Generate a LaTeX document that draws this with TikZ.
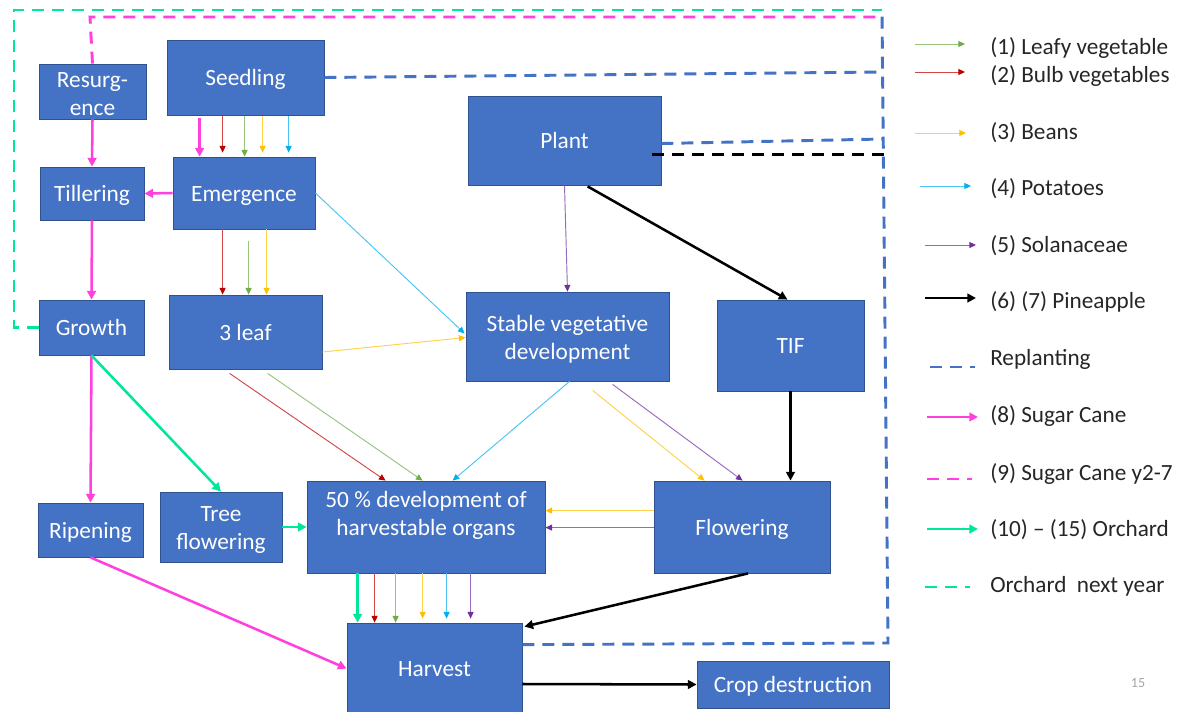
\documentclass[tikz,border=0pt]{standalone}
\usepackage{fontspec}
\setmainfont{Carlito}
\usetikzlibrary{arrows.meta,calc}

\definecolor{boxblue}{HTML}{4472C4}
\definecolor{boxedge}{HTML}{2F528F}
\definecolor{leafy}{HTML}{70AD47}
\definecolor{bulb}{HTML}{C00000}
\definecolor{beans}{HTML}{FFC000}
\definecolor{potato}{HTML}{00B0F0}
\definecolor{solan}{HTML}{7030A0}
\definecolor{cane}{HTML}{FF40DC}
\definecolor{orchard}{HTML}{00E69A}
\definecolor{replant}{HTML}{4472C4}
\definecolor{legtext}{HTML}{262626}
\definecolor{pagenum}{HTML}{A6A6A6}

\tikzset{
  boxbase/.style={draw=boxedge, line width=0.6pt, fill=boxblue, text=white,
    font=\fontsize{17.5}{21}\selectfont, inner sep=0pt},
  box/.style={boxbase, text height=12.3pt, text depth=0pt},
  boxml/.style={boxbase, align=center},
  boxtext/.style={label={[text=white, align=center, inner sep=0pt,
    font=\fontsize{17.5}{21}\selectfont, yshift=-2.25pt]center:#1}},
  thinarrow/.style={line width=0.7pt, draw=#1!72!white,
    -{Triangle[length=5pt,width=4.5pt,color=#1]}},
  thickarrow/.style={line width=1.9pt, draw=#1,
    -{Triangle[length=6.5pt,width=6.5pt,color=#1]}},
  dashline/.style={line width=2.2pt, dash pattern=on 9pt off 6pt},
  legendtext/.style={anchor=west, inner sep=0pt, text=legtext,
    font=\fontsize{17.4}{21}\selectfont},
}

\begin{document}
\begin{tikzpicture}[x=0.75pt, y=-0.75pt]
\useasboundingbox (0,0) rectangle (1182,711);
\fill[white] (0,0) rectangle (1182,711);
\clip (0,0) rectangle (1182,711);

% ---- stage boxes ----
\node[boxml, minimum width=80.25pt, minimum height=41.25pt, boxtext={Resurg-\\ence}] (resurg) at (92.5,91.5) {};
\node[box, minimum width=117.75pt, minimum height=56.25pt] (seed) at (245.5,77.5) {Seedling};
\node[box, minimum width=78pt, minimum height=39.75pt] (till) at (92,193.5) {Tillering};
\node[box, minimum width=106.5pt, minimum height=54pt] (emerg) at (244,193) {Emergence};
\node[box, minimum width=78.75pt, minimum height=41.25pt] (growth) at (91.5,327.5) {Growth};
\node[box, minimum width=114.75pt, minimum height=55.5pt] (leaf) at (245.5,332) {3 leaf};
\node[box, minimum width=144.75pt, minimum height=66.75pt] (plant) at (564.5,140.5) {Plant};
\node[boxml, minimum width=152.25pt, minimum height=66.75pt, boxtext={Stable vegetative\\development}] (stable) at (567.5,336.5) {};
\node[box, minimum width=110.25pt, minimum height=68.25pt] (tif) at (790.5,345.5) {TIF};
\node[box, minimum width=78.75pt, minimum height=40.5pt] (ripen) at (90.5,530) {Ripening};
\node[boxml, minimum width=91.5pt, minimum height=52.5pt, boxtext={Tree\\flowering}] (treefl) at (221,527) {};
\node[boxml, minimum width=178.5pt, minimum height=69pt] (dev) at (426,527) {50 \% development of\\harvestable organs\\~};
\node[box, minimum width=132pt, minimum height=69pt] (flower) at (742,527) {Flowering};
\node[box, minimum width=131.25pt, minimum height=68.25pt] (harvest) at (434.5,668.5) {Harvest};
\node[box, minimum width=144pt, minimum height=35.25pt] (crop) at (793,684.5) {Crop destruction};

% ---- loop-back corners ----
\coordinate (rtop) at (882,12);
\coordinate (rbot) at (888,643);
\coordinate (rseed) at (882.4,72);
\coordinate (rplant) at (883.5,139);
\coordinate (rpine) at (884,154.5);
\coordinate (gcorner) at (14,10);
\coordinate (gend) at (882,10);
\coordinate (pcorner) at (90,17);
\coordinate (pend) at (882,17);

% replanting (blue dashed)
\draw[replant, dashline] ($(harvest.north east)+(0,22)$) -- (rbot) -- (rtop);
\draw[replant, dashline] (seed.east) -- (rseed);
\draw[replant, dashline] ($(plant.east)+(0,3)$) -- (rplant);
% pineapple replanting (black dashed)
\draw[black, dashline] ($(plant.east)+(-9,14)$) -- (rpine);
% orchard next year (green dashed)
\draw[orchard, dashline] (growth.west) -| (gcorner) -- (gend);
% sugar cane years 2-7 (pink dashed)
\draw[cane, dashline] (resurg.north) -- (pcorner) -- (pend);

% ---- seedling -> emergence ----
\draw[thickarrow=cane] ($(seed.south west)+(33,3)$) -- ($(emerg.north west)+(27,0)$);
\draw[thinarrow=bulb] ($(seed.south west)+(56,1)$) -- ($(emerg.north west)+(50,-4)$);
\draw[thinarrow=leafy] ($(seed.south west)+(78,1)$) -- ($(emerg.north west)+(72,0)$);
\draw[thinarrow=beans] ($(seed.south west)+(96,1)$) -- ($(emerg.north west)+(90,-4)$);
\draw[thinarrow=potato] ($(seed.south west)+(122,1)$) -- ($(emerg.north west)+(116,-4)$);

% ---- sugar cane ----
\draw[thickarrow=cane] (resurg.south) -- (till.north);
\draw[thickarrow=cane] (emerg.west) -- (till.east);
\draw[thickarrow=cane] (till.south) -- (growth.north);
\draw[thickarrow=cane] (growth.south) -- (ripen.north);
\draw[thickarrow=cane] (ripen.south) -- (harvest.west);

% ---- orchard ----
\draw[thickarrow=orchard] (growth.south) -- (treefl.north);
\draw[thickarrow=orchard] (treefl.east) -- (dev.west);

% ---- emergence -> 3 leaf ----
\draw[thinarrow=bulb] ($(emerg.south west)+(50,0)$) -- ($(leaf.north west)+(54,0)$);
\draw[thinarrow=leafy] ($(emerg.south west)+(76,12)$) -- ($(leaf.north west)+(80,0)$);
\draw[thinarrow=beans] ($(emerg.south west)+(94,0)$) -- ($(leaf.north west)+(98,0)$);

% ---- towards stable vegetative development ----
\draw[thinarrow=potato] (emerg.east) -- ($(stable.west)+(-1,-3)$);
\draw[thinarrow=beans] ($(leaf.east)+(0,20)$) -- ($(stable.west)+(0,1)$);
\draw[thinarrow=solan] (plant.south) -- (stable.north);

% ---- towards 50 % development ----
\draw[thinarrow=bulb] ($(leaf.south west)+(61,4)$) -- ($(dev.north west)+(79,0)$);
\draw[thinarrow=leafy] ($(leaf.south west)+(99,4)$) -- ($(dev.north west)+(116,0)$);
\draw[thinarrow=potato] ($(stable.south)+(2,0)$) -- ($(dev.north west)+(146,0)$);

% ---- stable -> flowering ----
\draw[thinarrow=beans] ($(stable.south west)+(127,9)$) -- ($(flower.north west)+(51,0)$);
\draw[thinarrow=solan] ($(stable.south west)+(147,3)$) -- ($(flower.north west)+(89,0)$);

% ---- flowering -> 50 % development ----
\draw[thinarrow=beans] ($(flower.north west)+(0,30)$) -- ($(dev.north east)+(0,30)$);
\draw[thinarrow=solan] ($(flower.north west)+(0,47)$) -- ($(dev.north east)+(0,47)$);

% ---- pineapple ----
\draw[thickarrow=black] ($(plant.south west)+(120,1)$) -- ($(tif.north)+(-3,0)$);
\draw[thickarrow=black] (tif.south) -- (tif.south |- flower.north);
\draw[thickarrow=black] ($(flower.south)+(6,0)$) -- ($(harvest.north east)+(2,4)$);
\draw[thickarrow=black] ($(harvest.east)+(0,15.5)$) -- (crop.west);

% ---- 50 % development -> harvest ----
\draw[thickarrow=orchard] ($(dev.south west)+(51,0)$) -- ($(harvest.north west)+(11,0)$);
\draw[thinarrow=bulb] ($(dev.south west)+(68,0)$) -- ($(harvest.north west)+(28,0)$);
\draw[thinarrow=leafy] ($(dev.south west)+(89,0)$) -- ($(harvest.north west)+(49,0)$);
\draw[thinarrow=beans] ($(dev.south west)+(116,0)$) -- ($(harvest.north west)+(76,-4)$);
\draw[thinarrow=potato] ($(dev.south west)+(140,0)$) -- ($(harvest.north west)+(100,-4)$);
\draw[thinarrow=solan] ($(dev.south west)+(164,0)$) -- ($(harvest.north west)+(124,-4)$);

% ---- legend ----
\coordinate (l1a) at (915,44);  \coordinate (l1b) at (965,44);
\coordinate (l2a) at (915,72);  \coordinate (l2b) at (965,72);
\coordinate (l3a) at (915,133); \coordinate (l3b) at (966,133);
\coordinate (l4a) at (920,186); \coordinate (l4b) at (971,186);
\coordinate (l5a) at (925,245); \coordinate (l5b) at (976,245);
\coordinate (l6a) at (925,298); \coordinate (l6b) at (976,298);
\coordinate (l7a) at (930,367); \coordinate (l7b) at (975,367);
\coordinate (l8a) at (927,417); \coordinate (l8b) at (978,417);
\coordinate (l9a) at (927,479); \coordinate (l9b) at (972,479);
\coordinate (l10a) at (927,529); \coordinate (l10b) at (978,529);
\coordinate (l11a) at (925,587); \coordinate (l11b) at (970,587);

\draw[thinarrow=leafy] (l1a) -- (l1b);
\draw[thinarrow=bulb] (l2a) -- (l2b);
\draw[thinarrow=beans] (l3a) -- (l3b);
\draw[thinarrow=potato] (l4a) -- (l4b);
\draw[thinarrow=solan] (l5a) -- (l5b);
\draw[thickarrow=black] (l6a) -- (l6b);
\draw[replant, dashline] (l7a) -- (l7b);
\draw[thickarrow=cane] (l8a) -- (l8b);
\draw[cane, dashline] (l9a) -- (l9b);
\draw[thickarrow=orchard] (l10a) -- (l10b);
\draw[orchard, dashline] (l11a) -- (l11b);

\node[legendtext] (t1) at (990,48) {(1) Leafy vegetable};
\node[legendtext] (t2) at (990,76) {(2) Bulb vegetables};
\node[legendtext] (t3) at (990,133) {(3) Beans};
\node[legendtext] (t4) at (990,189) {(4) Potatoes};
\node[legendtext] (t5) at (990,246) {(5) Solanaceae};
\node[legendtext] (t6) at (990,302) {(6) (7) Pineapple};
\node[legendtext] (t7) at (990,359) {Replanting};
\node[legendtext] (t8) at (990,416) {(8) Sugar Cane};
\node[legendtext] (t9) at (990,474) {(9) Sugar Cane y2-7};
\node[legendtext] (t10) at (990,530) {(10) – (15) Orchard};
\node[legendtext] (t11) at (990,586) {Orchard~~next year};

% slide number
\node[text=pagenum, font=\fontsize{10.5}{12}\selectfont, inner sep=0pt] (pnum) at (1138,683) {15};
\end{tikzpicture}
\end{document}
